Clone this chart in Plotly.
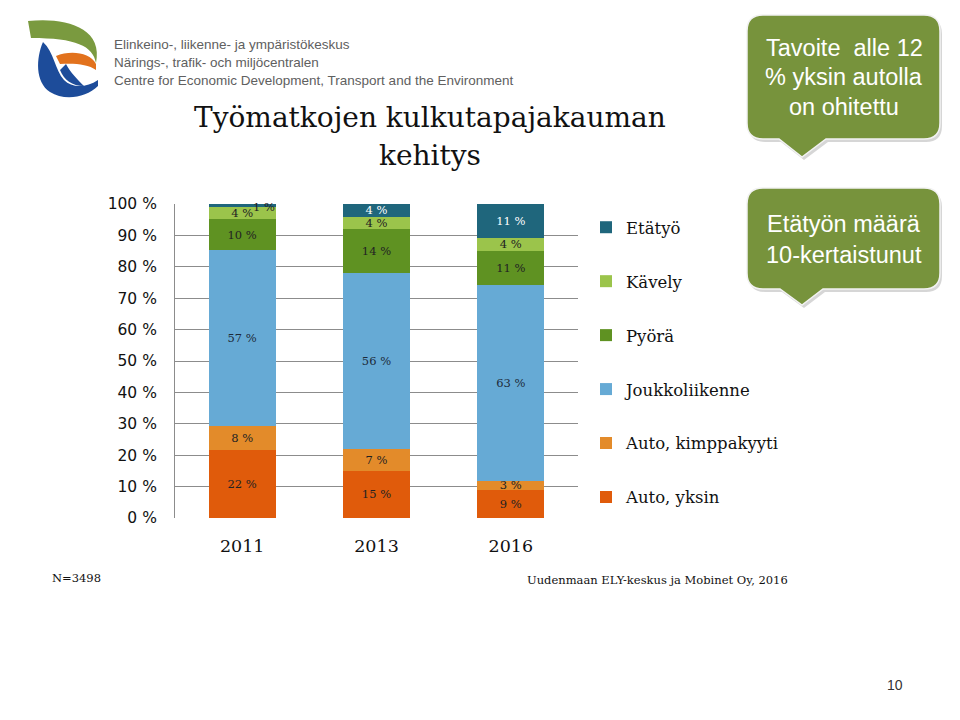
import plotly.graph_objects as go

# ---------------- data ----------------
years = ["2011", "2013", "2016"]
auto_yksin = [22, 15, 9]
auto_kimppa = [8, 7, 3]
joukkoliikenne = [57, 56, 63]
pyora = [10, 14, 11]
kavely = [4, 4, 4]
etatyo = [1, 4, 11]

series_names = ["Auto, yksin", "Auto, kimppakyyti", "Joukkoliikenne", "Pyörä", "Kävely", "Etätyö"]
series_values = [auto_yksin, auto_kimppa, joukkoliikenne, pyora, kavely, etatyo]
series_colors = ["#E05B0B", "#E38B2A", "#66AAD5", "#5F9222", "#9BC44B", "#1F667C"]
text_colors = ["#222222", "#222222", "#1d2a3a", "#222222", "#222222", "#FFFFFF"]

y_ticks = [0, 10, 20, 30, 40, 50, 60, 70, 80, 90, 100]
y_tick_labels = [f"{v} %" for v in y_ticks]

title_lines = ["Työmatkojen kulkutapajakauman", "kehitys"]
logo_lines = ["Elinkeino-, liikenne- ja ympäristökeskus",
              "Närings-, trafik- och miljöcentralen",
              "Centre for Economic Development, Transport and the Environment"]
callout1 = ["Tavoite  alle 12", "% yksin autolla", "on ohitettu"]
callout2 = ["Etätyön määrä", "10-kertaistunut"]
footer_left = "N=3498"
footer_right = "Uudenmaan ELY-keskus ja Mobinet Oy, 2016"
page_no = "10"

W, H = 960, 720
SERIF = "DejaVu Serif"
SANS = "Liberation Sans, Arial"


def X(px):
    return px / W


def Y(py):
    return 1 - py / H


def P(path):
    """Convert a path string in pixel coordinates to paper coordinates."""
    out = []
    toks = path.replace(",", " ").split()
    nums = []
    for t in toks:
        if t.isalpha():
            out.append(t)
        else:
            nums.append(float(t))
            if len(nums) == 2:
                out.append(f"{X(nums[0]):.5f},{Y(nums[1]):.5f}")
                nums = []
    return " ".join(out)


fig = go.Figure()

n = len(series_names)
for i, (name, vals, col, tc) in enumerate(zip(series_names, series_values, series_colors, text_colors)):
    texts = [f"{v} %" for v in vals]
    if name == "Etätyö":
        texts[0] = ""
    fig.add_trace(go.Bar(
        x=years, y=vals, name=name,
        marker=dict(color=col, line=dict(width=0)),
        text=texts, textposition="inside", insidetextanchor="middle",
        textangle=0,
        textfont=dict(family=SERIF, size=11.5, color=tc),
        legendgroup=name, legendrank=n - i,
        hoverinfo="skip",
    ))

# small label for the thin 1 % slice of 2011 (category index 0)
fig.add_annotation(x=years.index("2011"), y=100, xref="x", yref="y", text=f"{etatyo[0]} %",
                   showarrow=False, xshift=22, yshift=-3,
                   font=dict(family=SERIF, size=11.5, color="#222222"))

fig.update_layout(
    width=W, height=H,
    margin=dict(l=0, r=0, t=0, b=0, autoexpand=False),
    paper_bgcolor="white", plot_bgcolor="white",
    barmode="stack", barnorm="percent", bargap=0.5,
    uniformtext=dict(minsize=11.5, mode="show"),
    showlegend=True,
    legend=dict(x=X(586), y=Y(210), xanchor="left", yanchor="top",
                traceorder="grouped", tracegroupgap=29.5,
                font=dict(family=SERIF, size=16.5, color="#111111"),
                bgcolor="rgba(0,0,0,0)"),
    xaxis=dict(type="category", categoryorder="array", categoryarray=years,
               range=[-0.5, len(years) - 0.5], autorange=False,
               domain=[X(175), X(578)], showgrid=False, zeroline=False,
               showline=False, ticks="outside", ticklen=12, tickcolor="rgba(0,0,0,0)",
               automargin=False,
               tickfont=dict(family=SERIF, size=17.5, color="#111111")),
    yaxis=dict(domain=[Y(518), Y(204)], range=[0, 100], autorange=False, tickmode="array",
               tickvals=y_ticks, ticktext=y_tick_labels,
               showgrid=True, gridcolor="#8c8c8c", gridwidth=1, automargin=False,
               zeroline=False, showline=True, linecolor="#8c8c8c", linewidth=1,
               ticks="outside", ticklen=14, tickcolor="rgba(0,0,0,0)",
               tickfont=dict(family="DejaVu Sans", size=15.5, color="#111111")),
    font=dict(family=SANS),
)

shapes = []
annotations = []

# ---------- logo ----------
green_path = P("M 28 21 C 62 17 104 26 96 63 C 93 46 76 38 31 38 Z")
blue_path = P("M 43 42 C 36 58 35 82 50 92 C 64 101 86 98 98 86 L 98 80 "
              "C 86 88 72 88 64 80 C 55 70 54 52 43 42 Z")
blue_inner = P("M 60 70 C 64 80 72 86 84 86 C 78 80 70 72 66 64 Z")
orange_path = P("M 56 56 C 70 50 90 52 96 64 L 96 70 C 88 64 74 63 60 64 Z")
shapes += [
    dict(type="path", path=green_path, xref="paper", yref="paper",
         fillcolor="#7A9A3F", line=dict(width=0), layer="above"),
    dict(type="path", path=blue_path, xref="paper", yref="paper",
         fillcolor="#1D4C9A", line=dict(width=0), layer="above"),
    dict(type="path", path=blue_inner, xref="paper", yref="paper",
         fillcolor="#1D4C9A", line=dict(width=0), layer="above"),
    dict(type="path", path=orange_path, xref="paper", yref="paper",
         fillcolor="#E2721D", line=dict(width=0), layer="above"),
]
for k, line in enumerate(logo_lines):
    annotations.append(dict(x=X(112), y=Y(44 + 18 * k), xref="paper", yref="paper",
                            xanchor="left", yanchor="middle", showarrow=False,
                            text=line, font=dict(family=SANS, size=13.5, color="#606060")))

# ---------- title ----------
for k, line in enumerate(title_lines):
    annotations.append(dict(x=X(430), y=Y(118 + 37 * k), xref="paper", yref="paper",
                            xanchor="center", yanchor="middle", showarrow=False,
                            text=line, font=dict(family=SERIF, size=28, color="#111111")))


# ---------- callouts ----------
def callout(x0, y0, x1, y1, r, pb0, pb1, tx, ty):
    return (f"M {x0 + r} {y0} L {x1 - r} {y0} Q {x1} {y0} {x1} {y0 + r} "
            f"L {x1} {y1 - r} Q {x1} {y1} {x1 - r} {y1} L {pb1} {y1} L {tx} {ty} "
            f"L {pb0} {y1} L {x0 + r} {y1} Q {x0} {y1} {x0} {y1 - r} "
            f"L {x0} {y0 + r} Q {x0} {y0} {x0 + r} {y0} Z")


for (x0, y0, x1, y1, pb0, pb1, tx, ty) in [(747, 15, 940, 139, 779, 826, 802, 157),
                                            (747, 188, 940, 289, 780, 823, 802, 305)]:
    shapes.append(dict(type="path", path=P(callout(x0 + 2, y0 + 3, x1 + 2, y1 + 3, 16, pb0 + 2, pb1 + 2, tx + 2, ty + 3)),
                       xref="paper", yref="paper", fillcolor="rgba(0,0,0,0.16)",
                       line=dict(width=0), layer="above"))
    shapes.append(dict(type="path", path=P(callout(x0, y0, x1, y1, 16, pb0, pb1, tx, ty)),
                       xref="paper", yref="paper", fillcolor="#77933C",
                       line=dict(color="#F2F2F2", width=1.5), layer="above"))

for k, line in enumerate(callout1):
    annotations.append(dict(x=X(844), y=Y(48 + 29.5 * k), xref="paper", yref="paper",
                            xanchor="center", yanchor="middle", showarrow=False,
                            text=line, font=dict(family=SANS, size=23.5, color="white")))
for k, line in enumerate(callout2):
    annotations.append(dict(x=X(844), y=Y(224 + 31 * k), xref="paper", yref="paper",
                            xanchor="center", yanchor="middle", showarrow=False,
                            text=line, font=dict(family=SANS, size=23.5, color="white")))

# ---------- footers ----------
annotations.append(dict(x=X(50), y=Y(578), xref="paper", yref="paper", xanchor="left",
                        yanchor="middle", showarrow=False, text=footer_left,
                        font=dict(family=SERIF, size=11.5, color="#111111")))
annotations.append(dict(x=X(790), y=Y(580), xref="paper", yref="paper", xanchor="right",
                        yanchor="middle", showarrow=False, text=footer_right,
                        font=dict(family=SERIF, size=11.5, color="#111111")))
annotations.append(dict(x=X(895), y=Y(685), xref="paper", yref="paper", xanchor="center",
                        yanchor="middle", showarrow=False, text=page_no,
                        font=dict(family=SANS, size=14, color="#333333")))

fig.update_layout(shapes=shapes)
for a in annotations:
    fig.add_annotation(**a)

fig.write_html("out.html", config={"displayModeBar": False},
               post_script="document.body.style.margin='0';document.body.style.overflow='hidden';")
